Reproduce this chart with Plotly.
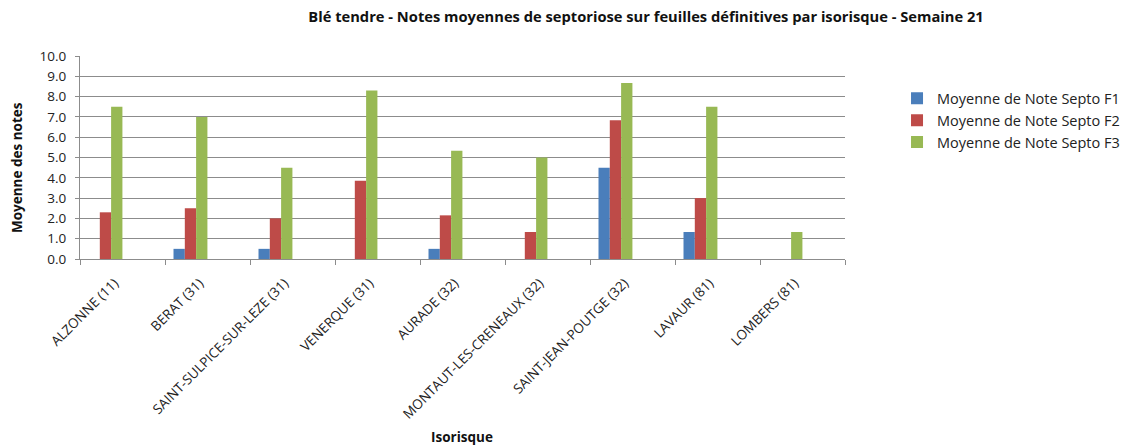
import plotly.graph_objects as go

categories = ["ALZONNE (11)", "BERAT (31)", "SAINT-SULPICE-SUR-LEZE (31)", "VENERQUE (31)",
              "AURADE (32)", "MONTAUT-LES-CRENEAUX (32)", "SAINT-JEAN-POUTGE (32)",
              "LAVAUR (81)", "LOMBERS (81)"]
septo_f1 = [0, 0.5, 0.5, 0, 0.5, 0, 4.5, 1.33, 0]
septo_f2 = [2.3, 2.5, 2.0, 3.85, 2.15, 1.33, 6.83, 3.0, 0]
septo_f3 = [7.5, 7.0, 4.5, 8.3, 5.33, 5.0, 8.67, 7.5, 1.33]
series_names = ["Moyenne de Note Septo F1", "Moyenne de Note Septo F2", "Moyenne de Note Septo F3"]
colors = ["#4A7EBB", "#BE4B48", "#98B954"]

FONT = "Open Sans"
fig = go.Figure()
bar_w = 0.133
offsets = [-0.4, -0.267, -0.134]
for name, vals, col, off in zip(series_names, [septo_f1, septo_f2, septo_f3], colors, offsets):
    fig.add_trace(go.Bar(x=categories, y=vals, name=name, marker_color=col,
                         marker_line_width=0, width=bar_w, offset=off))

fig.update_layout(
    width=1128, height=446,
    barmode="overlay",
    paper_bgcolor="white", plot_bgcolor="white",
    margin=dict(l=80, r=283, t=56, b=187, autoexpand=False),
    font=dict(family=FONT, color="#222222", size=13),
    title=dict(text="<b>Blé tendre - Notes moyennes de septoriose sur feuilles définitives par isorisque - Semaine 21</b>",
               x=646/1128, xanchor="center", y=1-17/446, yanchor="middle",
               font=dict(family=FONT, size=14.7, color="#111111")),
    legend=dict(x=1.068, y=0.87, xanchor="left", yanchor="top",
                font=dict(family=FONT, size=14.5, color="#222222"),
                itemwidth=30, tracegroupgap=0),
    showlegend=True,
)
fig.update_yaxes(range=[0, 10], dtick=1, tickformat=".1f", automargin=False,
                 showgrid=True, gridcolor="#8C8C8C", gridwidth=1,
                 showline=True, linecolor="#8C8C8C", linewidth=1,
                 ticks="outside", ticklen=4, tickcolor="#8C8C8C", ticklabelstandoff=6,
                 tickfont=dict(size=13.5, color="#222222"), zeroline=False)
fig.update_xaxes(type="category", tickson="boundaries", ticks="outside", ticklen=5,
                 automargin=False, ticklabelshift=-8, ticklabelstandoff=10,
                 tickcolor="#8C8C8C", showline=True, linecolor="#8C8C8C", linewidth=1,
                 tickangle=-45, showgrid=False, tickfont=dict(size=13.5, color="#222222"))

fig.add_annotation(text="<b>Moyenne des notes</b>", xref="paper", yref="paper",
                   x=(17-80)/765, y=(259-168)/203, textangle=-90, showarrow=False,
                   xanchor="center", yanchor="middle",
                   font=dict(family=FONT, size=13.5, color="#111111"))
fig.add_annotation(text="<b>Isorisque</b>", xref="paper", yref="paper",
                   x=(462-80)/765, y=(259-437)/203, showarrow=False,
                   xanchor="center", yanchor="middle",
                   font=dict(family=FONT, size=13.5, color="#111111"))

fig.write_html("out.html", config={"displayModeBar": False},
               post_script="document.body.style.margin='0';")
